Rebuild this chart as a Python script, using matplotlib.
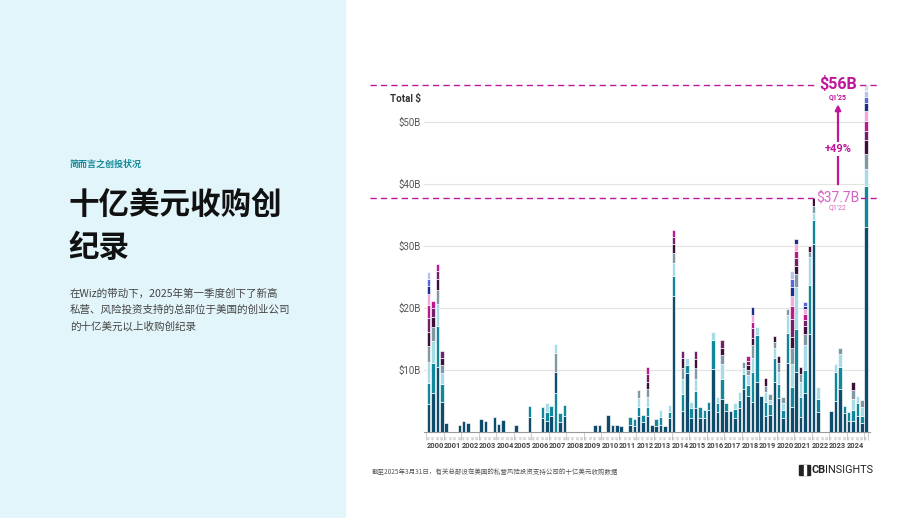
import matplotlib
matplotlib.use("Agg")
import matplotlib.pyplot as plt
from matplotlib.patches import Rectangle
import numpy as np

plt.rcParams["font.family"] = ["Noto Sans CJK SC", "DejaVu Sans"]

# $B of each $1B+ exit per quarter (2000 Q1 .. 2025 Q1), stacked bottom-up
deals = [
    # 2000
    [4.5, 3.4, 3.4, 2.5, 2.4, 2.2, 2.1, 1.7, 1.3, 1.2, 1.1],
    [6.3, 4.8, 3.6, 2.3, 1.6, 1.4, 1.2],
    [10.5, 6.6, 3.5, 2.3, 1.7, 1.3, 1.2],
    [4.9, 2.8, 1.8, 1.3, 1.2, 1.1],
    # 2001
    [1.4], [], [], [1.1],
    # 2002
    [1.8], [1.4], [], [],
    # 2003
    [2.1], [1.8], [], [2.4],
    # 2004
    [1.3], [1.9], [], [],
    # 2005
    [1.1], [], [], [2.5, 1.7],
    # 2006
    [], [], [2.3, 1.8], [1.8, 1.5, 1.3],
    # 2007
    [2.6, 1.6], [6.3, 3.3, 3.1, 1.5], [1.6, 1.4], [2.6, 1.8],
    # 2008
    [], [], [], [],
    # 2009
    [], [], [1.2], [1.2],
    # 2010
    [], [2.7], [1.2], [1.2],
    # 2011
    [1.0], [], [1.2, 1.2], [1.0, 1.1],
    # 2012
    [2.6, 1.5, 1.4, 1.3], [1.6, 1.1], [2.6, 1.5, 1.5, 1.3, 1.2, 1.2, 1.2], [1.2],
    # 2013
    [1.0, 1.1], [1.2, 1.3, 1.0], [1.0], [2.2, 1.1, 1.1],
    # 2014
    [22.0, 3.2, 2.0, 1.7, 1.4, 1.1, 1.2], [], [3.4, 2.7, 2.4, 1.8, 1.7, 1.0], [9.5, 1.3, 1.2],
    # 2015
    [2.3, 1.5, 1.1], [3.9, 2.7, 1.9, 1.8, 1.4, 1.3], [2.3, 1.8], [2.2, 1.3],
    # 2016
    [3.5, 1.4], [10.2, 4.6, 1.4], [3.3, 1.3, 1.1], [5.4, 3.1, 2.5, 1.4, 1.2, 1.2],
    # 2017
    [3.4, 1.3], [3.4], [2.2, 1.5, 1.0], [3.8, 1.4, 1.2],
    # 2018
    [6.9, 2.4, 1.0, 1.0], [5.8, 1.8, 1.6, 0.8, 0.8, 0.7, 0.8],
    [4.8, 4.8, 2.4, 2.0, 1.2, 1.5, 1.1, 1.0, 1.4], [8.0, 7.6, 1.4],
    # 2019
    [5.8], [2.6, 2.2, 1.6, 1.1, 1.2], [2.7, 1.8, 0.7, 0.9], [8.0, 4.0, 1.5, 1.0, 1.0],
    # 2020
    [5.5, 2.2, 1.9, 1.5, 1.2], [2.2, 1.3, 1.2, 1.0], [11.1, 4.8, 3.0, 1.0],
    [4.1, 3.2, 3.7, 2.5, 1.9, 2.9, 2.0, 1.6, 1.5, 1.3, 1.3],
    # 2021
    [9.6, 7.0, 6.8, 2.1, 1.3, 1.2, 1.2, 1.1, 0.9], [2.5, 3.1, 2.4, 1.3, 1.2],
    [6.3, 3.7, 4.0, 1.8, 1.3, 1.0, 1.0, 0.7, 0.6, 0.6], [15.8, 7.9, 4.5, 0.9, 0.9],
    # 2022
    [30.4, 3.8, 1.2, 1.1, 1.2], [3.3, 2.0, 2.0], [], [],
    # 2023
    [3.4], [5.0, 4.6, 1.3], [6.9, 3.6, 2.1, 0.9], [3.1, 1.1],
    # 2024
    [1.8, 1.5], [1.8, 1.7, 1.9, 1.4, 1.2], [2.6, 2.1, 1.1], [1.4, 1.2, 1.5, 1.0],
    # 2025
    [33.1, 6.5, 2.8, 2.4, 2.3, 1.5, 1.6, 1.5, 1.3, 1.1, 0.9, 1.0],
]
years = [str(y) for y in range(2000, 2025)]
color_swap = {29: [1, 0, 3, 2]}  # 2007 Q2 stack order differs

palette = ["#0f4c6b", "#10879a", "#a6dce6", "#7f98a4", "#3b0f3a", "#731f6c",
           "#bd1790", "#f1a9dc", "#1f2c87", "#5667d9", "#b9c1f1", "#dedede"]
MAG = "#c0169a"
MAG_LIGHT = "#d565c2"

W, H = 920, 518


def fx(px):
    return px / W


def fy(py):
    return 1 - py / H


fig = plt.figure(figsize=(W / 100, H / 100), dpi=100)
fig.patches.append(Rectangle((0, 0), fx(345), 1, transform=fig.transFigure,
                             color="#e2f5fa", zorder=0))

# left panel text
fig.text(fx(70), fy(164), "简而言之创投状况", fontsize=6.5, weight="bold",
         color="#168a9b", va="center")
fig.text(fx(68), fy(205), "十亿美元收购创", fontsize=22, weight="bold", color="#111", va="center")
fig.text(fx(68), fy(248), "纪录", fontsize=22, weight="bold", color="#111", va="center")
body = ["在Wiz的带动下，2025年第一季度创下了新高",
        "私营、风险投资支持的总部位于美国的创业公司",
        "的十亿美元以上收购创纪录"]
for j, line in enumerate(body):
    fig.text(fx(70), fy(294 + 16 * j), line, fontsize=7.6, color="#444", va="center")

# chart
n = len(deals)
x = np.arange(n)
ax = fig.add_axes([fx(424), fy(432), fx(870) - fx(424), fy(72.4) - fy(432)])
depth = max(len(d) for d in deals)
bottom = np.zeros(n)
for k in range(depth):
    h = np.array([d[k] if k < len(d) else 0.0 for d in deals])
    cols = []
    for i in range(n):
        order = color_swap.get(i)
        cols.append(palette[order[k]] if order and k < len(order) else palette[k])
    m = h > 0
    ax.bar(x[m], h[m], bottom=bottom[m], width=0.82, color=np.array(cols)[m],
           edgecolor="white", linewidth=0.45, zorder=3)
    bottom += h

ax.set_xlim(-1.07, 100.87)
ax.set_ylim(0, 58)
ax.set_yticks([10, 20, 30, 40, 50])
ax.set_yticklabels([f"${v}B" for v in [10, 20, 30, 40, 50]], family="Roboto",
                   fontsize=7, color="#555")
ax.tick_params(axis="y", length=0, pad=2)
ax.grid(axis="y", color="#e3e3e3", lw=0.8, zorder=0)
for s in ["top", "right", "left"]:
    ax.spines[s].set_visible(False)
ax.spines["bottom"].set_color("#999")
ax.spines["bottom"].set_linewidth(0.8)

centers = [4 * j + 1.5 for j in range(len(years))]
ax.set_xticks(centers)
ax.set_xticklabels(years, family="Roboto", fontsize=5.4, weight="bold", color="#444")
ax.tick_params(axis="x", length=0, pad=7.5)
ax.set_xticks([4 * j - 0.5 for j in range(len(years) + 1)] + [100.5], minor=True)
ax.tick_params(axis="x", which="minor", length=6, width=0.5, color="#bbb")
for i in range(n):
    ax.text(i, -0.012, f"Q{i % 4 + 1}", transform=ax.get_xaxis_transform(),
            fontsize=2.2, color="#999", ha="center", va="top", family="Roboto")

ax.text(-0.006, (432 - 99) / 6.2 / 58, "Total $", transform=ax.transAxes,
        ha="right", va="center", fontsize=7, weight="bold", color="#333", family="Roboto")

# record annotations
yt = ax.get_yaxis_transform()
for val in [56, 37.7]:
    ax.plot([-0.121, 1.022], [val, val], transform=yt, clip_on=False, color=MAG,
            lw=1.0, ls=(0, (4.5, 3)), zorder=4)
xa = (838 - 428.7) / 4.375
ax.annotate("", xy=(xa, 53.3), xytext=(xa, 39.5),
            arrowprops=dict(arrowstyle="-|>", color=MAG, lw=1.6, mutation_scale=8),
            zorder=5, annotation_clip=False)
ax.text(xa, 56.1, "$56B", ha="center", va="center", fontsize=11.5, weight="bold",
        color=MAG, family="Roboto", zorder=6,
        bbox=dict(fc="white", ec="none", pad=1.2))
ax.text(xa, 53.95, "Q1'25", ha="center", va="center", fontsize=5, weight="bold",
        color=MAG, family="Roboto", zorder=6)
ax.text(xa, 45.6, "+49%", ha="center", va="center", fontsize=8, weight="bold",
        color=MAG, family="Roboto", zorder=6,
        bbox=dict(fc="white", ec="none", pad=1.5))
ax.text(xa, 37.7, "$37.7B", ha="center", va="center", fontsize=10,
        color=MAG_LIGHT, family="Roboto", zorder=6,
        bbox=dict(fc="white", ec="none", pad=1.0))
ax.text(xa, 36.1, "Q1'22", ha="center", va="center", fontsize=5,
        color=MAG_LIGHT, family="Roboto", zorder=6)

# footer
fig.text(fx(372), fy(472), "截至2025年3月31日，有关总部设在美国的私营风险投资支持公司的十亿美元收购数据",
         fontsize=4.7, color="#555", va="center")
fig.patches.append(Rectangle((fx(799), fy(475)), fx(11), fy(465) - fy(475),
                             transform=fig.transFigure, color="#222"))
fig.patches.append(Rectangle((fx(804.5), fy(475)), fx(1.2), fy(465) - fy(475),
                             transform=fig.transFigure, color="white"))
cb = fig.text(fx(812), fy(470), "CB", fontsize=7.8, weight="bold", color="#222",
              va="center", family="Roboto")
ax.annotate("INSIGHTS", xy=(1, 0.5), xycoords=cb, xytext=(-1, 0),
            textcoords="offset points", va="center", ha="left",
            fontsize=7.8, color="#222", family="Roboto", annotation_clip=False)

fig.savefig("out.png", dpi=100)
